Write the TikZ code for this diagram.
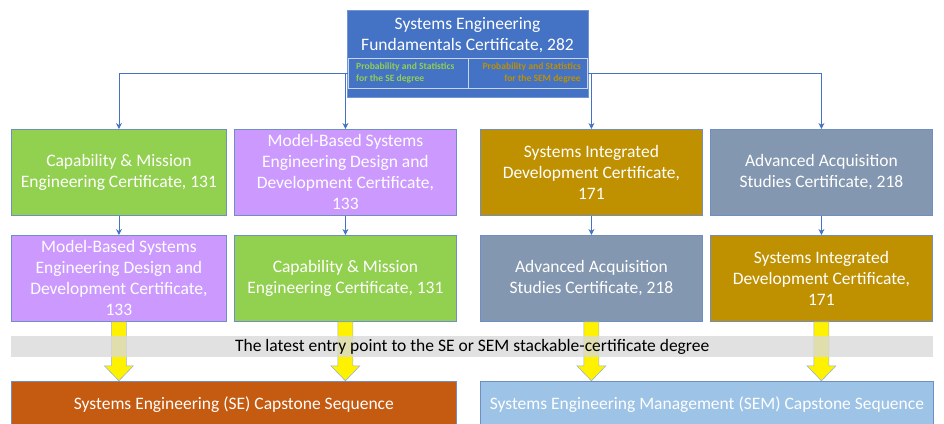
\documentclass[tikz,border=0pt]{standalone}
\usepackage{fontspec}
\setmainfont{Carlito}
\usetikzlibrary{arrows.meta}

\definecolor{topblue}{HTML}{4472C4}
\definecolor{certgreen}{HTML}{92D050}
\definecolor{certviolet}{HTML}{CC99FF}
\definecolor{certgold}{HTML}{BF9000}
\definecolor{certslate}{HTML}{8497B0}
\definecolor{seorange}{HTML}{C55A11}
\definecolor{semblue}{HTML}{9DC3E6}
\definecolor{edgeblue}{HTML}{6F8FC4}
\definecolor{bandgray}{HTML}{D9D9D9}

\begin{document}
\begin{tikzpicture}[x=1pt,y=-1pt,
  certbox/.style={draw=edgeblue,line width=0.8pt,minimum width=222pt,minimum height=86pt,
    inner sep=0pt,align=center,text=white,anchor=north west,font=\fontsize{17.5}{21}\selectfont},
  green/.style={fill=certgreen}, violet/.style={fill=certviolet},
  gold/.style={fill=certgold}, slate/.style={fill=certslate},
  link/.style={draw=topblue,line width=0.7pt,-{Stealth[length=6pt,width=6pt]}},
  probtext/.style={font=\bfseries\fontsize{9.6}{12}\selectfont,inner sep=0pt},
  fatarrow/.style={fill=yellow,draw=edgeblue!70,line width=0.6pt},
  capstone/.style={draw=edgeblue,line width=0.8pt,anchor=north west,minimum height=46pt,
    text=white,font=\fontsize{17.5}{21}\selectfont}]
\useasboundingbox (0,0) rectangle (944,423);

% fundamentals certificate on top
\node (fund) [fill=topblue,draw=topblue!75!white,line width=0.8pt,anchor=north,
  minimum width=241pt,minimum height=87pt] at (467.5,10) {};
\node (fundtitle) [text=white,align=center,font=\fontsize{17.5}{21}\selectfont] at (467.5,35.5)
  {Systems Engineering\\Fundamentals Certificate, 282};
\node (probse) [draw=white!70!topblue,line width=0.8pt,anchor=north west,minimum width=120pt,
  minimum height=30pt] at (348,58) {};
\node (probsem) [draw=white!70!topblue,line width=0.8pt,anchor=north west,minimum width=119pt,
  minimum height=30pt] at (468,58) {};
\node [probtext,text=certgreen,align=left,anchor=west] at (356,73)
  {Probability and Statistics\\for the SE degree};
\node [probtext,text=certgold,align=right,anchor=east] at (581,73)
  {Probability and Statistics\\for the SEM degree};

% the two rows of certificates
\node (c11) [certbox,green,minimum width=215pt] at (11,129)
  {Capability \& Mission\\Engineering Certificate, 131};
\node (c12) [certbox,violet] at (234,129)
  {Model-Based Systems\\Engineering Design and\\Development Certificate,\\133};
\node (c13) [certbox,gold] at (480,129)
  {Systems Integrated\\Development Certificate,\\171};
\node (c14) [certbox,slate] at (710,129)
  {Advanced Acquisition\\Studies Certificate, 218};
\node (c21) [certbox,violet,minimum width=215pt] at (11,235)
  {Model-Based Systems\\Engineering Design and\\Development Certificate,\\133};
\node (c22) [certbox,green] at (234,235)
  {Capability \& Mission\\Engineering Certificate, 131};
\node (c23) [certbox,slate] at (480,235)
  {Advanced Acquisition\\Studies Certificate, 218};
\node (c24) [certbox,gold] at (710,235)
  {Systems Integrated\\Development Certificate,\\171};

\draw[link] (probse.west) -| (c11.north);
\draw[link] (probse.west) -| (c12.north);
\draw[link] (probsem.east) -| (c13.north);
\draw[link] (probsem.east) -| (c14.north);
\foreach \c in {1,...,4}
  \draw[link] (c1\c.south) -- (c2\c.north);

% yellow block arrows into the capstones
\foreach \c in {1,...,4}
  \draw[fatarrow] (c2\c.south) ++(-7.5,0) -- ++(0,44) -- ++(-7,0) -- ++(14.5,15)
    -- ++(14.5,-15) -- ++(-7,0) -- ++(0,-44) -- cycle;

\node (band) [fill=bandgray,fill opacity=0.8,text opacity=1,anchor=north west,minimum width=922pt,
  minimum height=21pt,inner sep=0pt,font=\fontsize{17.5}{21}\selectfont] at (11,336)
  {The latest entry point to the SE or SEM stackable-certificate degree};

\node (se) [capstone,fill=seorange,minimum width=445pt] at (11,381)
  {Systems Engineering (SE) Capstone Sequence};
\node (sem) [capstone,fill=semblue,minimum width=453pt] at (480,381)
  {Systems Engineering Management (SEM) Capstone Sequence};
\end{tikzpicture}
\end{document}
